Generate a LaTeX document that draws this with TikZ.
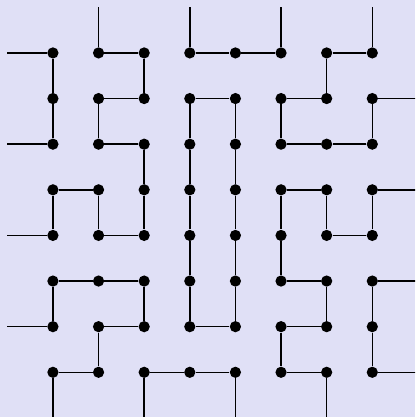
\documentclass[tikz,border=0pt]{standalone}
\usepackage{tikz}
\definecolor{paper}{RGB}{224,224,246}

\begin{document}
\begin{tikzpicture}[
                dot/.style={circle, fill=black, minimum size=7pt, inner sep=0pt},
                wire/.style={draw, line width=0.9pt},
            ]
            % ── Frame ─────────────────────────────────────────────
            \clip (-0.16,0.16) rectangle (8.94,-8.98);
            \fill[paper] (-0.16,0.16) rectangle (8.94,-8.98);

            % ── Grid of dots: d<col><row> ─────────────────────────
            \foreach \c in {0,...,7}
              \foreach \r in {0,...,7}
                \node[dot] (d\c\r) at (\c+1,-\r-1) {};

            % ── Free ends on the four sides ───────────────────────
            \foreach \i in {0,2,4,6} {
              \coordinate (west\i)  at (0,-\i-1);
              \coordinate (south\i) at (\i+1,-9);
            }
            \foreach \i in {1,3,5,7} {
              \coordinate (north\i) at (\i+1,0);
              \coordinate (east\i)  at (9,-\i-1);
            }

            % ── Paths (left half) ─────────────────────────────────
            \draw[wire] (west0) -- (d00) -- (d01) -- (d02) -- (west2);
            \draw[wire] (north1) -- (d10) -- (d20) -- (d21) -- (d11) -- (d12) -- (d22)
                        -- (d23) -- (d24) -- (d14) -- (d13) -- (d03) -- (d04) -- (west4);
            \draw[wire] (west6) -- (d06) -- (d05) -- (d15) -- (d25) -- (d26) -- (d16)
                        -- (d17) -- (d07) -- (south0);
            \draw[wire] (south2) -- (d27) -- (d37) -- (d47) -- (south4);

            % ── Middle loop ───────────────────────────────────────
            \draw[wire] (d31) -- (d41) -- (d42) -- (d43) -- (d44) -- (d45) -- (d46)
                        -- (d36) -- (d35) -- (d34) -- (d33) -- (d32) -- (d31);

            % ── Paths (right half) ────────────────────────────────
            \draw[wire] (north3) -- (d30) -- (d40) -- (d50) -- (north5);
            \draw[wire] (north7) -- (d70) -- (d60) -- (d61) -- (d51) -- (d52) -- (d62)
                        -- (d72) -- (d71) -- (east1);
            \draw[wire] (east3) -- (d73) -- (d74) -- (d64) -- (d63) -- (d53) -- (d54)
                        -- (d55) -- (d65) -- (d66) -- (d56) -- (d57) -- (d67) -- (south6);
            \draw[wire] (east5) -- (d75) -- (d76) -- (d77) -- (east7);
        \end{tikzpicture}
\end{document}
